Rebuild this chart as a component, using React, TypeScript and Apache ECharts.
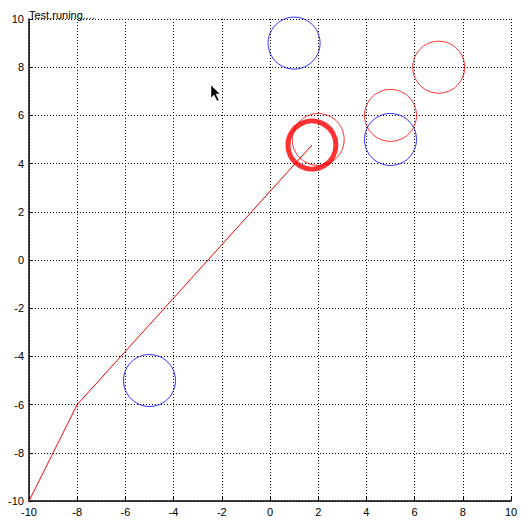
import React, { useEffect, useRef } from "react";
import * as echarts from "echarts";

const pathPoints: [number, number][] = [[-10, -10], [-8, -6], [1.74, 4.77]];
const blueCircles: [number, number][] = [[1, 9], [5, 5], [-5, -5]];
const redCircles: [number, number][] = [[7, 8], [5, 6], [2, 5]];
const currentPos: [number, number][] = [[1.74, 4.77]];
const axisMin = -10;
const axisMax = 10;
const axisStep = 2;
const titleText = "Test.runing....";

export default function App() {
  const ref = useRef<HTMLDivElement>(null);
  useEffect(() => {
    if (!ref.current) return;
    const chart = echarts.init(ref.current, undefined, { renderer: "svg" });
    const font = "Liberation Sans";
    const axisCommon = {
      type: "value" as const,
      min: axisMin,
      max: axisMax,
      interval: axisStep,
      axisLine: { show: true, onZero: false, lineStyle: { color: "#000", width: 1.5 } },
      axisTick: { show: true, inside: true, length: 4, lineStyle: { color: "#000", width: 1 } },
      splitLine: { show: true, lineStyle: { color: "#000", type: [1, 2], width: 1 } },
      axisLabel: { color: "#000", fontSize: 11, fontFamily: font, margin: 5 },
    };
    chart.setOption({
      animation: false,
      backgroundColor: "#fff",
      grid: { left: 29, top: 19, width: 482, height: 482 },
      xAxis: { ...axisCommon },
      yAxis: { ...axisCommon },
      graphic: [
        {
          type: "text",
          left: 29,
          top: 9,
          style: { text: titleText, fill: "#000", fontSize: 11, fontFamily: font },
        },
        {
          type: "polygon",
          shape: {
            points: [[211, 85], [211, 98], [214, 95], [217, 101], [219, 100], [216, 94], [220, 94]],
          },
          style: { fill: "#000", stroke: "#fff", lineWidth: 0.5 },
        },
      ],
      series: [
        {
          type: "line",
          data: pathPoints,
          showSymbol: false,
          lineStyle: { color: "#ff0000", width: 1 },
          z: 2,
        },
        {
          type: "scatter",
          data: blueCircles,
          symbol: "circle",
          symbolSize: 52,
          itemStyle: { color: "rgba(0,0,0,0)", borderColor: "#0000ff", borderWidth: 1 },
          z: 3,
        },
        {
          type: "scatter",
          data: redCircles,
          symbol: "circle",
          symbolSize: 52,
          itemStyle: { color: "rgba(0,0,0,0)", borderColor: "#ff0000", borderWidth: 1 },
          z: 3,
        },
        {
          type: "scatter",
          data: currentPos,
          symbol: "circle",
          symbolSize: 48,
          itemStyle: { color: "rgba(0,0,0,0)", borderColor: "#ff0000", borderWidth: 5 },
          z: 4,
        },
      ],
    });
    return () => chart.dispose();
  }, []);
  return (
    <div
      ref={ref}
      style={{ position: "fixed", left: 0, top: 0, width: 530, height: 526 }}
    />
  );
}
